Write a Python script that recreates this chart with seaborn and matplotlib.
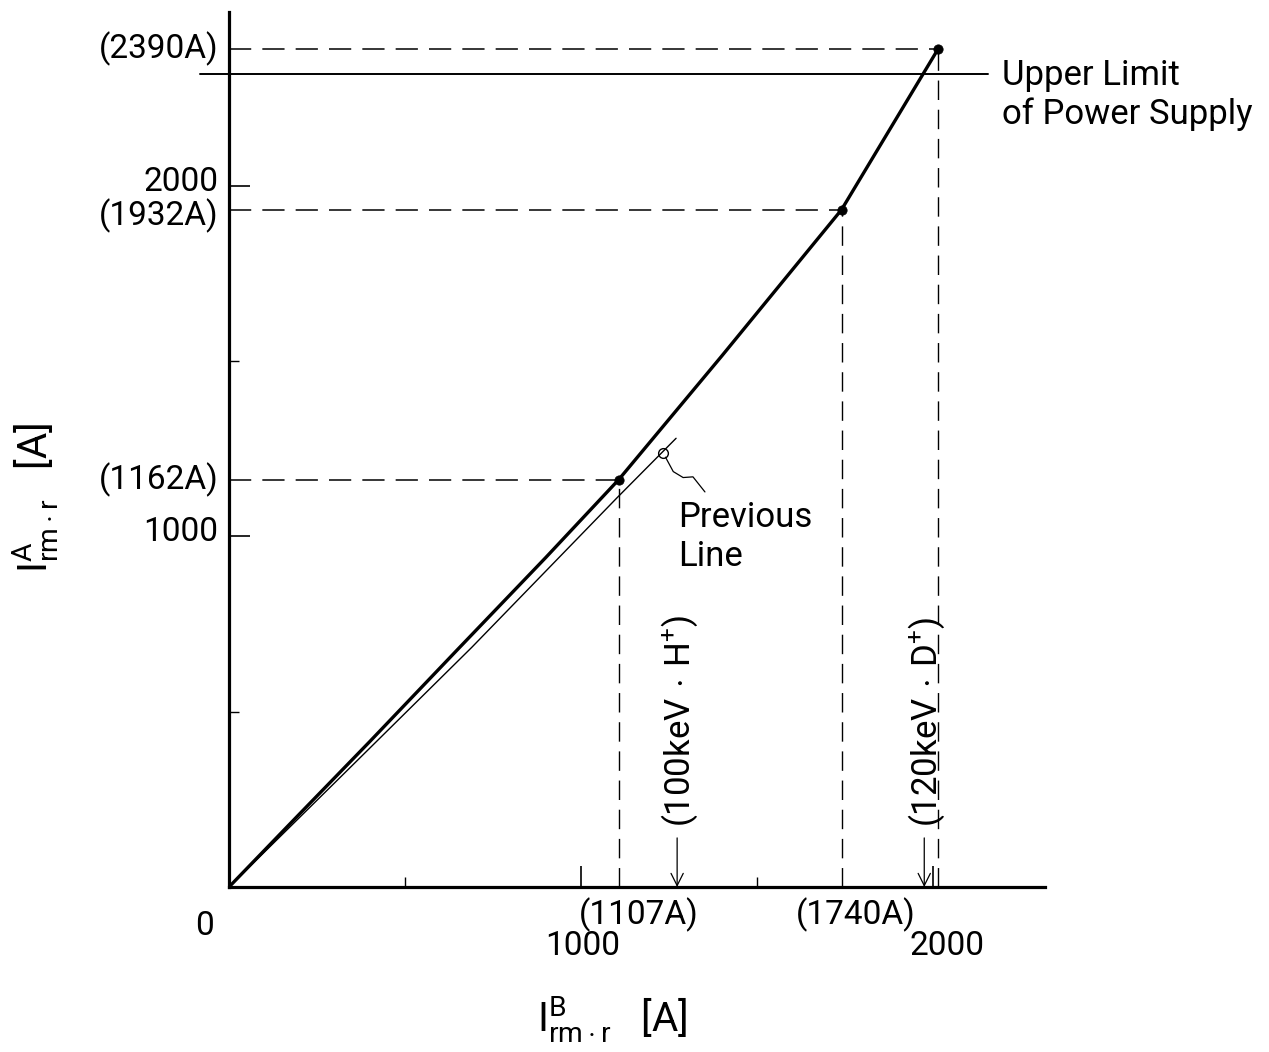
import matplotlib
matplotlib.use("Agg")
import matplotlib.pyplot as plt
import matplotlib.transforms as mtransforms
import seaborn as sns
import pandas as pd

# Operating curve of the rectifier magnet (beam line B vs. beam line A)
main_x = [0, 200, 400, 648, 900, 1107, 1400, 1740, 2014]
main_y = [0, 208, 415, 676, 940, 1162, 1515, 1932, 2390]

# Previous operating line
prev_x = [0, 300, 690, 1102, 1270]
prev_y = [0, 297, 684, 1110, 1280]

# Marked operating points
pts_x = [1107, 1740, 2014]
pts_y = [1162, 1932, 2390]
pts_ylabels = ["(1162A)", "(1932A)", "(2390A)"]
pts_xlabels = ["(1107A)", "(1740A)"]

upper_limit = 2320
beam_x = [1273, 1975]
beam_labels = [r"(100keV$\,\cdot\,$H$^{+}$)", r"(120keV$\,\cdot\,$D$^{+}$)"]

major_ticks = [1000, 2000]
minor_ticks = [500, 1500]

sns.set_style("ticks")
plt.rcParams["font.family"] = ["Roboto", "DejaVu Sans"]
plt.rcParams["mathtext.fontset"] = "custom"
plt.rcParams["mathtext.rm"] = "Roboto"
plt.rcParams["mathtext.it"] = "Roboto"
plt.rcParams["lines.scale_dashes"] = False
plt.rcParams["text.color"] = "black"
plt.rcParams["xtick.color"] = "black"
plt.rcParams["ytick.color"] = "black"

FS = 24
fig = plt.figure(figsize=(12.69, 10.52), dpi=100)
ax = fig.add_axes([229 / 1269, 1 - 887 / 1052, (1045 - 229) / 1269, (887 - 12) / 1052])
ax.set_xlim(0, 2318)
ax.set_ylim(0, 2496)

main_df = pd.DataFrame({"x": main_x, "y": main_y})
prev_df = pd.DataFrame({"x": prev_x, "y": prev_y})
pts_df = pd.DataFrame({"x": pts_x, "y": pts_y})

sns.lineplot(data=main_df, x="x", y="y", sort=False, color="black", lw=2.4, ax=ax)
sns.lineplot(data=prev_df, x="x", y="y", sort=False, color="black", lw=1.0, ax=ax)
sns.scatterplot(data=pts_df, x="x", y="y", color="black", s=45, edgecolor="black",
                zorder=5, ax=ax)

dash = (0, (16, 8))
# guide lines from each point to the axes
for x, y in zip(pts_x, pts_y):
    ax.plot([0, x], [y, y], color="black", lw=1.1, linestyle=dash)
    ax.plot([x, x], [0, y], color="black", lw=1.0, linestyle=(0, (14, 7)))

# power supply limit
ax.plot([-82, 2155], [upper_limit, upper_limit], color="black", lw=1.4, clip_on=False)
ax.text(2196, upper_limit - 60, "Upper Limit\nof Power Supply", fontsize=FS + 1,
        ha="left", va="center", linespacing=1.2, clip_on=False)

# beam energy markers
for bx, lab in zip(beam_x, beam_labels):
    ax.annotate("", xy=(bx, 0), xytext=(bx, 140),
                arrowprops=dict(arrowstyle="->", lw=0.9, color="black",
                                mutation_scale=22, shrinkA=0, shrinkB=0))
    ax.text(bx + 8, 172, lab, rotation=90, fontsize=FS + 1, ha="center", va="bottom")

# label for the previous line
ax.plot([1233], [1238], marker="o", ms=7, mfc="none", mec="black", mew=1.0)
ax.plot([1240, 1262, 1290, 1318, 1352], [1226, 1185, 1168, 1170, 1127],
        color="black", lw=0.9)
ax.text(1276, 1100, "Previous\nLine", fontsize=FS + 1, ha="left", va="top",
        linespacing=1.2)

# axes styling
sns.despine(ax=ax)
for side in ("left", "bottom"):
    ax.spines[side].set_linewidth(2.3)
    ax.spines[side].set_color("black")
ax.set_xticks(major_ticks)
ax.set_yticks(major_ticks)
ax.set_xticks(minor_ticks, minor=True)
ax.set_yticks(minor_ticks, minor=True)
ax.set_xticklabels([])
ax.set_yticklabels([])
ax.tick_params(axis="both", which="major", direction="in", length=15, width=1.2)
ax.tick_params(axis="both", which="minor", direction="in", length=7, width=1.0)

ytf = ax.get_yaxis_transform()
xtf = ax.get_xaxis_transform()
up = mtransforms.offset_copy(ytf, fig=fig, y=3, units="points")
down = mtransforms.offset_copy(ytf, fig=fig, y=-4, units="points")

# value labels along the vertical axis
for t in major_ticks:
    ax.text(-0.013, t, str(t), transform=up, fontsize=FS, ha="right", va="center")
for y, lab in zip(pts_y, pts_ylabels):
    ax.text(-0.013, y, lab, transform=down if y == 1932 else ytf,
            fontsize=FS, ha="right", va="center")

# value labels along the horizontal axis
for x, lab, dx in zip(pts_x[:2], pts_xlabels, [58, 40]):
    ax.text(x + dx, -0.012, lab, transform=xtf, fontsize=FS, ha="center", va="top")
for t, dx in zip(major_ticks, [4, 40]):
    ax.text(t + dx, -0.049, str(t), transform=xtf, fontsize=FS, ha="center", va="top")
ax.text(-70, -0.026, "0", transform=xtf, fontsize=FS, ha="center", va="top")

ax.set_xlabel("")
ax.set_ylabel("")
fig.text(612 / 1269, 1 - 1020 / 1052, r"$\mathrm{I}_{\mathrm{rm}\cdot\mathrm{r}}^{\mathrm{B}}$   [A]",
         fontsize=29, ha="center", va="center")
fig.text(36 / 1269, 1 - 498 / 1052, r"$\mathrm{I}_{\mathrm{rm}\cdot\mathrm{r}}^{\mathrm{A}}$   [A]",
         fontsize=29, ha="center", va="center", rotation=90)

fig.savefig("out.png", dpi=100)
